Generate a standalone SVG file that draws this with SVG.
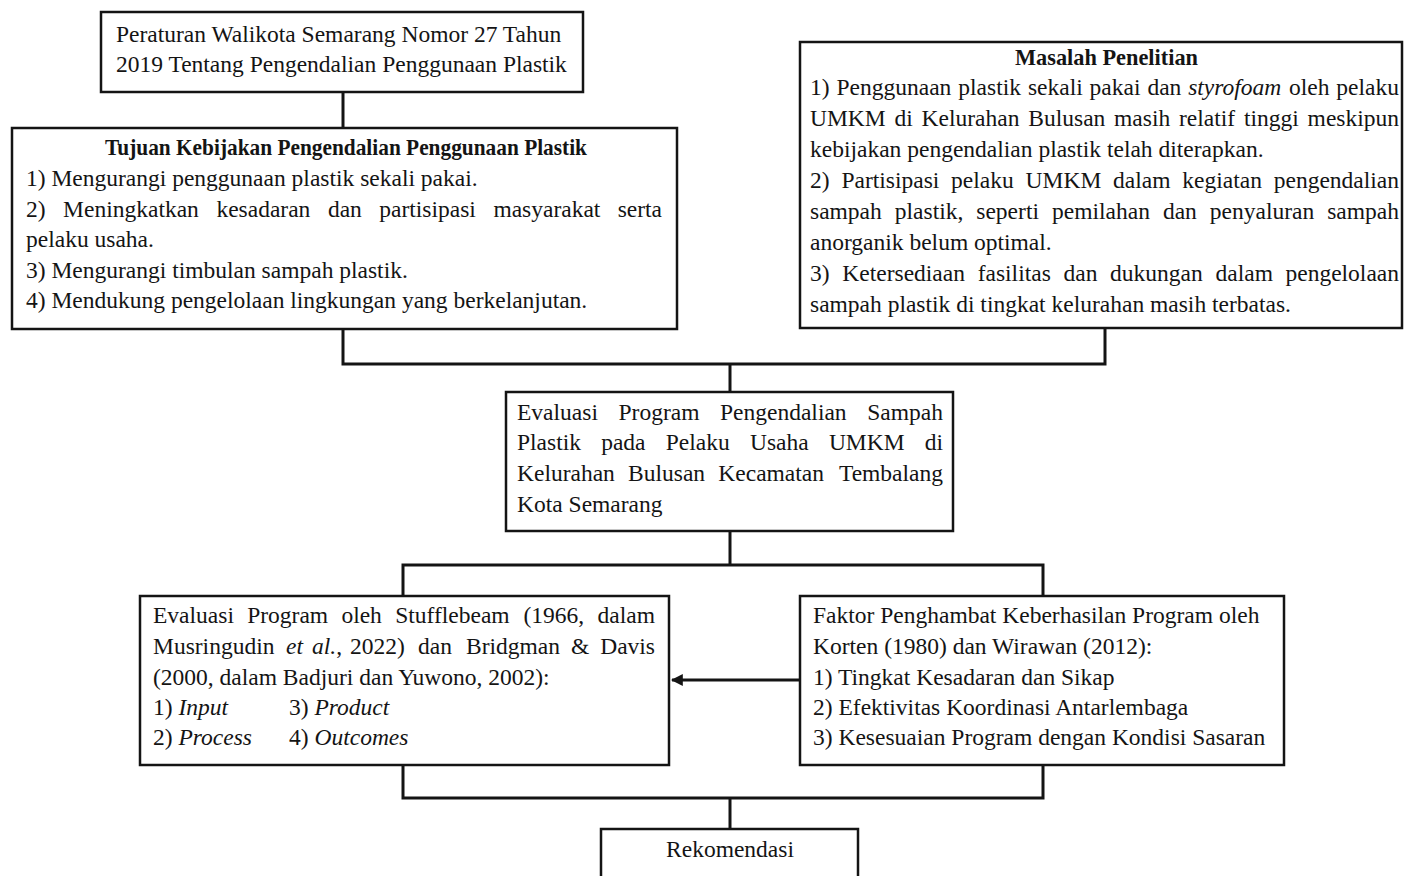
<svg xmlns="http://www.w3.org/2000/svg" width="1404" height="876" viewBox="0 0 1404 876">
<defs>
<style>
text{font-family:"Liberation Serif","Times New Roman",serif;font-size:23.5px;fill:#141414}
.b{font-weight:bold}
.i{font-style:italic}
.box{fill:#fff;stroke:#141414;stroke-width:2.5}
.con{fill:none;stroke:#141414;stroke-width:3}
</style>
<marker id="ah" viewBox="0 0 10 10" refX="9" refY="5" markerWidth="4" markerHeight="4" orient="auto">
<path d="M0,0 L10,5 L0,10 z" fill="#141414"/>
</marker>
</defs>
<rect width="1404" height="876" fill="#fff"/>

<g id="connectors">
<line class="con" x1="343" y1="92" x2="343" y2="128"/>
<polyline class="con" points="343,329 343,364 1105,364 1105,328"/>
<line class="con" x1="730" y1="364" x2="730" y2="392"/>
<line class="con" x1="730" y1="531" x2="730" y2="565"/>
<polyline class="con" points="403,596 403,565 1043,565 1043,596"/>
<polyline class="con" points="403,765 403,798 1043,798 1043,765"/>
<line class="con" x1="730" y1="798" x2="730" y2="829"/>
<line class="con" x1="800" y1="680" x2="672" y2="680" marker-end="url(#ah)"/>
</g>

<g id="peraturan">
<rect class="box" x="101" y="12" width="482" height="80"/>
<text x="116" y="42">Peraturan Walikota Semarang Nomor 27 Tahun</text>
<text x="116" y="72">2019 Tentang Pengendalian Penggunaan Plastik</text>
</g>

<g id="tujuan">
<rect class="box" x="12" y="128" width="665" height="201"/>
<text class="b" x="105" y="155" textLength="482" lengthAdjust="spacingAndGlyphs">Tujuan Kebijakan Pengendalian Penggunaan Plastik</text>
<text x="26" y="186">1) Mengurangi penggunaan plastik sekali pakai.</text>
<text y="217"><tspan x="26">2)</tspan><tspan x="63.1">Meningkatkan</tspan><tspan x="216.4">kesadaran</tspan><tspan x="327.9">dan</tspan><tspan x="379.3">partisipasi</tspan><tspan x="493.4">masyarakat</tspan></text>
<text x="662" y="217" text-anchor="end">serta</text>
<text x="26" y="247">pelaku usaha.</text>
<text x="26" y="278">3) Mengurangi timbulan sampah plastik.</text>
<text x="26" y="308">4) Mendukung pengelolaan lingkungan yang berkelanjutan.</text>
</g>

<g id="masalah">
<rect class="box" x="800" y="42" width="602" height="286"/>
<text class="b" x="1015" y="65" textLength="183" lengthAdjust="spacingAndGlyphs">Masalah Penelitian</text>
<text y="95"><tspan x="810">1)</tspan><tspan x="836.5">Penggunaan</tspan><tspan x="958.3">plastik</tspan><tspan x="1027.9">sekali</tspan><tspan x="1089.6">pakai</tspan><tspan x="1147.4">dan</tspan><tspan x="1188.2" class="i">styrofoam</tspan><tspan x="1289.1">oleh</tspan></text>
<text x="1399" y="95" text-anchor="end">pelaku</text>
<text y="126"><tspan x="810">UMKM</tspan><tspan x="894.5">di</tspan><tspan x="921.6">Kelurahan</tspan><tspan x="1028.3">Bulusan</tspan><tspan x="1114.1">masih</tspan><tspan x="1179">relatif</tspan><tspan x="1243.9">tinggi</tspan></text>
<text x="1399" y="126" text-anchor="end">meskipun</text>
<text x="810" y="157">kebijakan pengendalian plastik telah diterapkan.</text>
<text y="188"><tspan x="810">2)</tspan><tspan x="841.4">Partisipasi</tspan><tspan x="951.1">pelaku</tspan><tspan x="1025.6">UMKM</tspan><tspan x="1113.1">dalam</tspan><tspan x="1182.3">kegiatan</tspan></text>
<text x="1399" y="188" text-anchor="end">pengendalian</text>
<text y="219"><tspan x="810">sampah</tspan><tspan x="894.8">plastik,</tspan><tspan x="976.3">seperti</tspan><tspan x="1052">pemilahan</tspan><tspan x="1162.9">dan</tspan><tspan x="1209.8">penyaluran</tspan></text>
<text x="1399" y="219" text-anchor="end">sampah</text>
<text x="810" y="250">anorganik belum optimal.</text>
<text y="281"><tspan x="810">3)</tspan><tspan x="842.3">Ketersediaan</tspan><tspan x="977.7">fasilitas</tspan><tspan x="1063.5">dan</tspan><tspan x="1110.1">dukungan</tspan><tspan x="1215.5">dalam</tspan></text>
<text x="1399" y="281" text-anchor="end">pengelolaan</text>
<text x="810" y="312">sampah plastik di tingkat kelurahan masih terbatas.</text>
</g>

<g id="evaluasi-program">
<rect class="box" x="506" y="392" width="447" height="139"/>
<text y="420"><tspan x="517">Evaluasi</tspan><tspan x="618.5">Program</tspan><tspan x="720">Pengendalian</tspan></text>
<text x="943" y="420" text-anchor="end">Sampah</text>
<text y="450"><tspan x="517">Plastik</tspan><tspan x="601.2">pada</tspan><tspan x="665.8">Pelaku</tspan><tspan x="750">Usaha</tspan><tspan x="828.9">UMKM</tspan></text>
<text x="943" y="450" text-anchor="end">di</text>
<text y="481"><tspan x="517">Kelurahan</tspan><tspan x="628.1">Bulusan</tspan><tspan x="718.3">Kecamatan</tspan></text>
<text x="943" y="481" text-anchor="end">Tembalang</text>
<text x="517" y="512">Kota Semarang</text>
</g>

<g id="teori-evaluasi">
<rect class="box" x="140" y="596" width="529" height="169"/>
<text y="623"><tspan x="153">Evaluasi</tspan><tspan x="247.2">Program</tspan><tspan x="341.4">oleh</tspan><tspan x="395.2">Stufflebeam</tspan><tspan x="523.4">(1966,</tspan></text>
<text x="655" y="623" text-anchor="end">dalam</text>
<text y="654"><tspan x="153">Musringudin</tspan><tspan x="286" class="i">et</tspan><tspan x="312" class="i">al.</tspan><tspan>,</tspan><tspan x="350">2022)</tspan><tspan x="418">dan</tspan><tspan x="466">Bridgman</tspan><tspan x="571">&amp;</tspan></text>
<text x="655" y="654" text-anchor="end">Davis</text>
<text x="153" y="685">(2000, dalam Badjuri dan Yuwono, 2002):</text>
<text x="153" y="715">1) <tspan class="i">Input</tspan></text>
<text x="289" y="715">3) <tspan class="i">Product</tspan></text>
<text x="153" y="745">2) <tspan class="i">Process</tspan></text>
<text x="289" y="745">4) <tspan class="i">Outcomes</tspan></text>
</g>

<g id="faktor-penghambat">
<rect class="box" x="800" y="596" width="484" height="169"/>
<text x="813" y="623">Faktor Penghambat Keberhasilan Program oleh</text>
<text x="813" y="654">Korten (1980) dan Wirawan (2012):</text>
<text x="813" y="685">1) Tingkat Kesadaran dan Sikap</text>
<text x="813" y="715">2) Efektivitas Koordinasi Antarlembaga</text>
<text x="813" y="745">3) Kesesuaian Program dengan Kondisi Sasaran</text>
</g>

<g id="rekomendasi">
<rect class="box" x="601" y="829" width="257" height="60"/>
<text x="730" y="857" text-anchor="middle">Rekomendasi</text>
</g>
</svg>
